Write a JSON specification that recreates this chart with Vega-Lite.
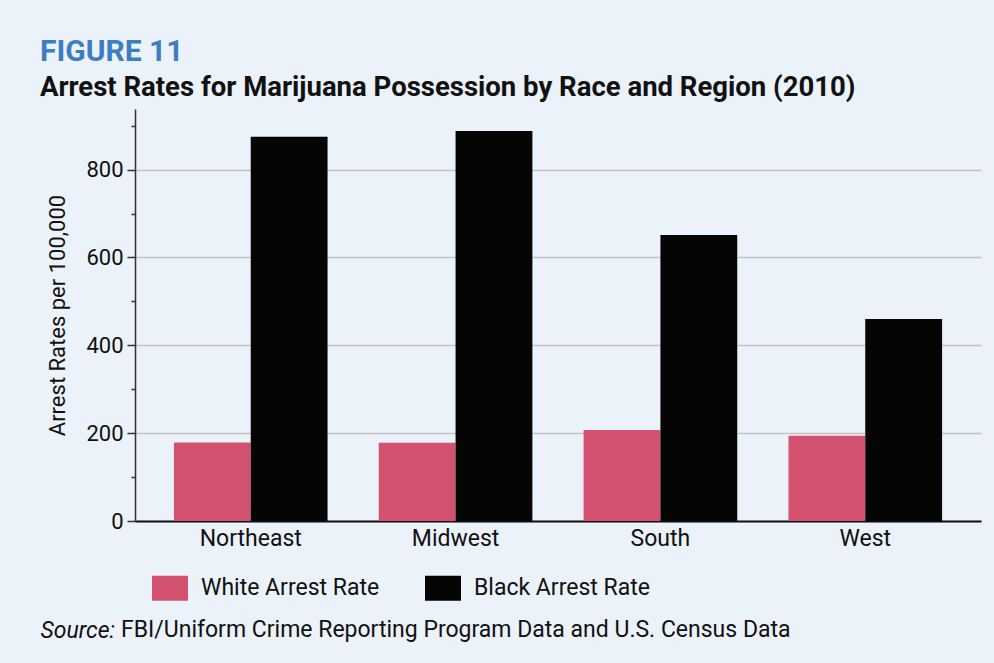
{
  "$schema": "https://vega.github.io/schema/vega-lite/v6.json",
  "autosize": {"type": "none"},
  "width": 846,
  "height": 412,
  "padding": {"left": 135, "top": 109, "right": 13, "bottom": 142},
  "background": "#EBF2F9",
  "title": {
    "text": "FIGURE 11",
    "subtitle": "Arrest Rates for Marijuana Possession by Race and Region (2010)",
    "anchor": "start",
    "frame": "group",
    "dx": -95,
    "offset": 8,
    "font": "Roboto",
    "fontSize": 30,
    "fontWeight": "bold",
    "color": "#3D7EC3",
    "subtitleFont": "Roboto",
    "subtitleFontSize": 27.5,
    "subtitleFontWeight": "bold",
    "subtitleColor": "#111111",
    "subtitlePadding": 7
  },
  "data": {
    "values": [
      {"region": "Northeast", "race": "White Arrest Rate", "rate": 179},
      {"region": "Northeast", "race": "Black Arrest Rate", "rate": 875},
      {"region": "Midwest", "race": "White Arrest Rate", "rate": 178},
      {"region": "Midwest", "race": "Black Arrest Rate", "rate": 888},
      {"region": "South", "race": "White Arrest Rate", "rate": 207},
      {"region": "South", "race": "Black Arrest Rate", "rate": 651},
      {"region": "West", "race": "White Arrest Rate", "rate": 194},
      {"region": "West", "race": "Black Arrest Rate", "rate": 460}
    ]
  },
  "mark": {"type": "bar"},
  "encoding": {
    "x": {
      "field": "region",
      "type": "nominal",
      "sort": ["Northeast", "Midwest", "South", "West"],
      "scale": {"paddingInner": 0.25, "paddingOuter": 0.19},
      "axis": {
        "title": "Source:",
        "titleFont": "Roboto",
        "titleFontSize": 23,
        "titleFontStyle": "italic",
        "titleFontWeight": "normal",
        "titleColor": "#111111",
        "titleX": -95,
        "titleY": 116,
        "titleAlign": "left",
        "titleBaseline": "alphabetic",
        "labelAngle": 0,
        "labelFont": "Roboto",
        "labelFontSize": 23,
        "labelColor": "#111111",
        "labelPadding": 6,
        "ticks": false,
        "domainColor": "#111111",
        "domainWidth": 2,
        "grid": false
      }
    },
    "xOffset": {
      "field": "race",
      "type": "nominal",
      "sort": ["White Arrest Rate", "Black Arrest Rate"],
      "scale": {"paddingInner": 0, "paddingOuter": 0}
    },
    "y": {
      "field": "rate",
      "type": "quantitative",
      "scale": {"domain": [0, 938], "nice": false},
      "axis": {
        "title": "Arrest Rates per 100,000",
        "titleFont": "Roboto",
        "titleFontSize": 22,
        "titleFontWeight": "normal",
        "titleColor": "#111111",
        "titlePadding": 16,
        "values": [0, 100, 200, 300, 400, 500, 600, 700, 800, 900],
        "labelExpr": "datum.value % 200 === 0 ? datum.label : ''",
        "labelFont": "Roboto",
        "labelFontSize": 22,
        "labelColor": "#111111",
        "labelPadding": 4,
        "tickColor": "#333333",
        "tickSize": {"condition": {"test": "datum.value % 200 === 0", "value": 8}, "value": 4},
        "tickWidth": 1.5,
        "domainColor": "#333333",
        "domainWidth": 1.5,
        "grid": true,
        "gridColor": "#C4C4C4",
        "gridWidth": 1.5,
        "gridOpacity": {"condition": {"test": "datum.value % 200 === 0", "value": 1}, "value": 0}
      }
    },
    "color": {
      "field": "race",
      "type": "nominal",
      "sort": ["White Arrest Rate", "Black Arrest Rate"],
      "scale": {"domain": ["White Arrest Rate", "Black Arrest Rate"], "range": ["#D35270", "#050505"]},
      "legend": {
        "orient": "none",
        "legendX": -14,
        "legendY": 461,
        "direction": "horizontal",
        "title": "FBI/Uniform Crime Reporting Program Data and U.S. Census Data",
        "titleOrient": "bottom",
        "titleFont": "Roboto",
        "titleFontSize": 23,
        "titleFontWeight": "normal",
        "titleColor": "#111111",
        "titlePadding": 18,
        "titleLimit": 900,
        "symbolType": "M-1,-0.69H1V0.69H-1Z",
        "symbolSize": 1296,
        "symbolOffset": 31,
        "symbolStrokeWidth": 0,
        "symbolOpacity": 1,
        "labelFont": "Roboto",
        "labelFontSize": 23,
        "labelColor": "#111111",
        "labelOffset": 13,
        "labelLimit": 400,
        "columnPadding": 14
      }
    }
  },
  "config": {
    "view": {"stroke": null}
  }
}
